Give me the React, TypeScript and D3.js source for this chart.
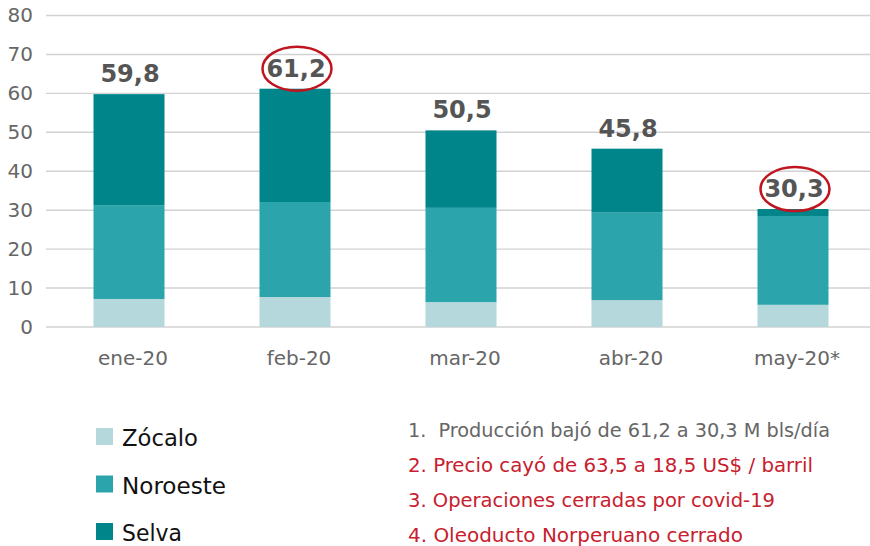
import React from "react";
import * as d3 from "d3";

const categories = ["ene-20", "feb-20", "mar-20", "abr-20", "may-20*"];
const zocalo = [7.2, 7.7, 6.4, 6.9, 5.7];
const noroeste = [24.1, 24.4, 24.2, 22.6, 22.8];
const selva = [28.5, 29.1, 19.9, 16.3, 1.8];
const totals = ["59,8", "61,2", "50,5", "45,8", "30,3"];
const highlighted = [false, true, false, false, true];
const yTicks = [0, 10, 20, 30, 40, 50, 60, 70, 80];
const seriesNames = ["Zócalo", "Noroeste", "Selva"];
const seriesColors = ["#b5d8dc", "#2ba4ab", "#00858a"];
const notes = [
  "1.  Producción bajó de 61,2 a 30,3 M bls/día",
  "2. Precio cayó de 63,5 a 18,5 US$ / barril",
  "3. Operaciones cerradas por covid-19",
  "4. Oleoducto Norperuano cerrado",
];
const noteColors = ["#666666", "#c8202e", "#c8202e", "#c8202e"];
const noteWidths = [422, 405, 367, 335];
const legendWidths = [76, 104, 60];

export default function App() {
  const W = 870;
  const H = 546;
  const x = d3.scaleBand<string>().domain(categories).range([46, 876]).paddingInner(0.572).paddingOuter(0.286);
  const y = d3.scaleLinear().domain([0, 80]).range([327, 15.5]);

  const rows = categories.map((c, i) => ({ cat: c, Zócalo: zocalo[i], Noroeste: noroeste[i], Selva: selva[i] }));
  const stack = d3.stack<any>().keys(seriesNames);
  const layers = stack(rows);

  const bw = 71;
  const cx = (c: string) => (x(c) as number) + x.bandwidth() / 2;

  return (
    <div style={{ position: "absolute", left: 0, top: 0 }}>
      <svg width={W} height={H} style={{ display: "block" }}>
        <rect width={W} height={H} fill="#ffffff" />
        {yTicks.map((t) => (
          <g key={t}>
            <line x1={46} x2={W} y1={y(t)} y2={y(t)} stroke="#d2d2d2" strokeWidth={1.4} />
            <text x={33} y={y(t) + 1} textAnchor="end" dominantBaseline="middle" fontFamily="DejaVu Sans" fontSize={20} fill="#666">
              {t}
            </text>
          </g>
        ))}
        {layers.map((layer, li) => (
          <g key={li} fill={seriesColors[li]}>
            {layer.map((d, i) => (
              <rect key={i} x={cx(categories[i]) - bw / 2} width={bw} y={y(d[1])} height={y(d[0]) - y(d[1])} />
            ))}
          </g>
        ))}
        {categories.map((c, i) => {
          const top = layers[layers.length - 1][i][1];
          return (
            <g key={c}>
              <text x={cx(c) + 1} y={y(top) - 12} textAnchor="middle" fontFamily="DejaVu Sans" fontWeight="bold" fontSize={24} fill="#555">
                {totals[i]}
              </text>
              {highlighted[i] && (
                <ellipse cx={cx(c) + 2} cy={y(top) - 20} rx={34.5} ry={22} fill="none" stroke="#c0141e" strokeWidth={2.5} />
              )}
              <text x={cx(c) + 4} y={365} textAnchor="middle" fontFamily="DejaVu Sans" fontSize={20} fill="#666">
                {c}
              </text>
            </g>
          );
        })}
        {seriesNames.map((s, i) => (
          <g key={s}>
            <rect x={96} y={428 + i * 47.5} width={17} height={17} fill={seriesColors[i]} />
            <text x={122} y={446 + i * 47.5} fontFamily="DejaVu Sans Condensed" fontSize={22.5} fill="#111" textLength={legendWidths[i]} lengthAdjust="spacingAndGlyphs">
              {s}
            </text>
          </g>
        ))}
        {notes.map((n, i) => (
          <text key={i} x={408} y={437 + i * 35} fontFamily="DejaVu Sans Condensed" fontSize={20} fill={noteColors[i]} textLength={noteWidths[i]} lengthAdjust="spacingAndGlyphs" style={{ whiteSpace: "pre" }}>
            {n}
          </text>
        ))}
      </svg>
    </div>
  );
}
